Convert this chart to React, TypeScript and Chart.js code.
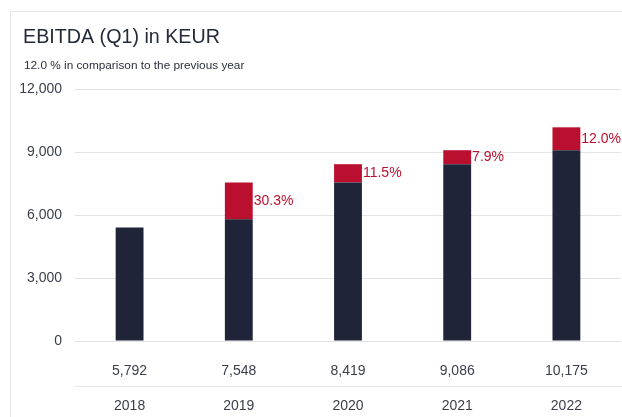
import React, { useEffect, useRef } from "react";
import { Chart, registerables } from "chart.js";

Chart.register(...registerables);

const categories = ["2018", "2019", "2020", "2021", "2022"];
const totals = [5792, 7548, 8419, 9086, 10175];
const baseValues = [5400, 5792, 7548, 8419, 9086];
const increaseValues = [0, 1756, 871, 667, 1089];
const growthPct: (number | null)[] = [null, 30.3, 11.5, 7.9, 12.0];
const yTicks = [0, 3000, 6000, 9000, 12000];

const titleText = "EBITDA (Q1) in KEUR";
const subtitleText = "12.0 % in comparison to the previous year";

const NAVY = "#1f2438";
const RED = "#bb0f2f";
const TEXT = "#3b3e4b";
const FONT = "'Liberation Sans', Arial, sans-serif";

const fmt = (v: number) => v.toLocaleString("en-US");

export default function App() {
  const ref = useRef<HTMLCanvasElement | null>(null);

  useEffect(() => {
    if (!ref.current) return;

    const headerPlugin = {
      id: "header",
      afterDraw(chart: any) {
        const ctx = chart.ctx;
        ctx.save();
        ctx.fillStyle = "#252a3a";
        ctx.textAlign = "left";
        ctx.textBaseline = "alphabetic";
        ctx.font = `19.7px ${FONT}`;
        ctx.fillText(titleText, 23, 42.5);
        ctx.font = `11.8px ${FONT}`;
        ctx.fillStyle = "#2c2f3d";
        ctx.fillText(subtitleText, 24, 68.5);
        ctx.restore();
      },
    };

    const pctPlugin = {
      id: "pctLabels",
      afterDatasetsDraw(chart: any) {
        const ctx = chart.ctx;
        const meta = chart.getDatasetMeta(1);
        ctx.save();
        ctx.fillStyle = RED;
        ctx.font = `14px ${FONT}`;
        ctx.textAlign = "left";
        ctx.textBaseline = "middle";
        meta.data.forEach((el: any, i: number) => {
          const g = growthPct[i];
          if (g == null) return;
          const x = el.x + el.width / 2 + 1;
          const y = (el.y + el.base) / 2;
          ctx.fillText(g.toFixed(1) + "%", x, y);
        });
        ctx.restore();
      },
    };

    const chart = new Chart(ref.current, {
      type: "bar",
      data: {
        labels: categories,
        datasets: [
          {
            label: "Previous year",
            data: baseValues,
            backgroundColor: NAVY,
            barPercentage: 0.255,
            categoryPercentage: 1,
          },
          {
            label: "Increase",
            data: increaseValues,
            backgroundColor: RED,
            barPercentage: 0.255,
            categoryPercentage: 1,
          },
        ],
      },
      options: {
        animation: false,
        responsive: false,
        devicePixelRatio: 1,
        layout: { padding: { top: 89, left: 19, right: 1, bottom: 0 } },
        plugins: {
          legend: { display: false },
          tooltip: { enabled: false },
          title: { display: false },
        },
        scales: {
          x: {
            stacked: true,
            grid: { display: false },
            border: { display: false },
            ticks: {
              padding: 14,
              color: TEXT,
              font: { family: FONT, size: 14 },
              callback: (_v: any, i: number) => fmt(totals[i]),
            },
            afterFit: (s: any) => {
              s.height = 45;
            },
          },
          x2: {
            type: "category",
            labels: categories,
            position: "bottom",
            offset: true,
            grid: { display: false },
            border: { display: true, color: "#e2e5ea", width: 1 },
            ticks: {
              padding: 4,
              color: TEXT,
              font: { family: FONT, size: 14 },
            },
            afterFit: (s: any) => {
              s.height = 31;
            },
          },
          y: {
            stacked: true,
            min: 0,
            max: 12000,
            border: { display: false },
            grid: { color: "#e3e3e3", drawTicks: false, lineWidth: 1 },
            afterBuildTicks: (s: any) => {
              s.ticks = yTicks.map((v) => ({ value: v }));
            },
            afterFit: (s: any) => {
              s.width = 56;
            },
            ticks: {
              padding: 13,
              color: TEXT,
              font: { family: FONT, size: 14 },
              callback: (v: any) => fmt(Number(v)),
            },
          },
        },
      } as any,
      plugins: [headerPlugin, pctPlugin],
    });

    return () => chart.destroy();
  }, []);

  return (
    <div style={{ position: "fixed", left: 0, top: 0, width: 622, height: 417, background: "#fff" }}>
      <div
        style={{
          position: "absolute",
          left: 10,
          top: 11,
          right: 0,
          bottom: 0,
          borderTop: "1px solid #e6e6e6",
          borderLeft: "1px solid #e6e6e6",
        }}
      />
      <canvas
        ref={ref}
        width={622}
        height={417}
        style={{ position: "absolute", left: 0, top: 0, width: 622, height: 417 }}
      />
    </div>
  );
}
